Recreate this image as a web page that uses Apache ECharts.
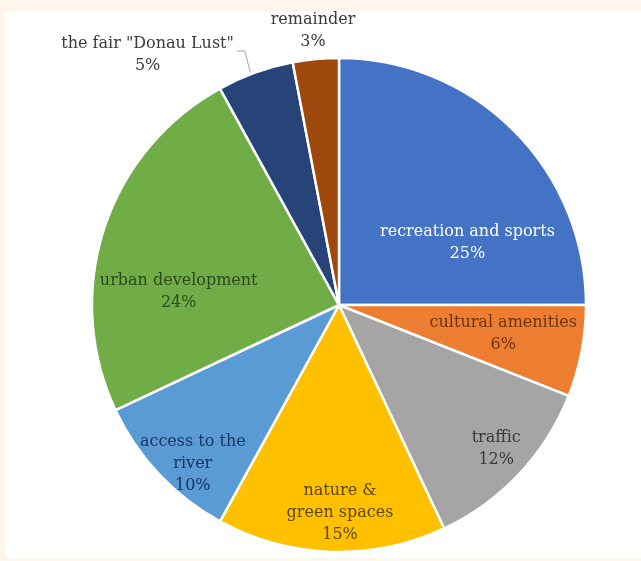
<!DOCTYPE html>
<html>
<head>
<meta charset="utf-8">
<script src="https://cdn.jsdelivr.net/npm/echarts@6/dist/echarts.min.js"></script>
<style>
  html, body { margin: 0; padding: 0; background: #fdf6ec; width: 641px; height: 561px; overflow: hidden; }
  #panel { position: absolute; left: 5px; top: 11px; width: 636px; height: 547px; background: #ffffff; }
  #chart { position: absolute; left: 0; top: 0; width: 641px; height: 561px; }
</style>
</head>
<body>
<div id="panel"></div>
<div id="chart"></div>
<script>
// ---- data ----
const categories = ['recreation and sports', 'cultural amenities', 'traffic', 'nature & green spaces',
                    'access to the river', 'urban development', 'the fair "Donau Lust"', 'remainder'];
const shares = [25, 6, 12, 15, 10, 24, 5, 3];

// ---- styling (kept separate from data) ----
const sliceColors = ['#4472C4', '#ED7D31', '#A5A5A5', '#FFC000', '#5B9BD5', '#70AD47', '#264478', '#9E480E'];
const labelColors = ['#ffffff', '#6e3410', '#3a3a3a', '#5e4600', '#1c3560', '#2a4a1c', '#3a3a3a', '#3a3a3a'];
const wrapped = { 'nature & green spaces': 'nature &\ngreen spaces', 'access to the river': 'access to the\nriver' };
// label shift from the default inside position (px)
const labelShift = [[39, 27], [40, 5], [65, 57], [5, 81], [-54, 72], [-40, 26]];
const outsideIdx = { 6: 'line', 7: 'free' };

const CX = 339, CY = 305, R = 247;
const total = shares.reduce((a, b) => a + b, 0);

const chart = echarts.init(document.getElementById('chart'), null, { renderer: 'canvas' });

const data = categories.map((name, i) => ({
  name: name,
  value: shares[i],
  itemStyle: { color: sliceColors[i] },
  label: {
    color: labelColors[i],
    position: outsideIdx[i] ? 'outside' : 'inside'
  },
  labelLine: { show: outsideIdx[i] === 'line' }
}));

function midAngle(i) {
  let acc = 0;
  for (let k = 0; k < i; k++) acc += shares[k];
  return (acc + shares[i] / 2) / total * Math.PI * 2;
}

chart.setOption({
  animation: false,
  backgroundColor: 'transparent',
  series: [{
    type: 'pie',
    center: [CX, CY],
    radius: [0, R],
    startAngle: 90,
    clockwise: true,
    avoidLabelOverlap: false,
    itemStyle: { borderColor: '#ffffff', borderWidth: 2.5 },
    label: {
      show: true,
      fontFamily: 'DejaVu Serif',
      fontSize: 16,
      lineHeight: 22,
      formatter: p => (wrapped[p.name] || p.name) + '\n' + Math.round(p.percent) + '%'
    },
    labelLine: {
      show: true,
      length: 20,
      length2: 8,
      lineStyle: { color: '#a6a6a6', width: 1 }
    },
    labelLayout: function (p) {
      const i = p.dataIndex;
      const r = p.labelRect;
      if (i < labelShift.length) {
        return {
          x: r.x + r.width / 2 + labelShift[i][0],
          y: r.y + r.height / 2 + labelShift[i][1],
          align: 'center',
          verticalAlign: 'middle'
        };
      }
      const a = midAngle(i);
      if (outsideIdx[i] === 'line') {
        const sx = CX + R * Math.sin(a), sy = CY - R * Math.cos(a);
        const ex = CX + (R + 22) * Math.sin(a) - 3, ey = CY - (R + 22) * Math.cos(a) - 1;
        const hx = ex - 8;
        return {
          x: hx - 3 - r.width / 2,
          y: ey + 4,
          align: 'center',
          verticalAlign: 'middle',
          labelLinePoints: [[sx - 5, sy], [ex, ey], [hx, ey]]
        };
      }
      return {
        x: CX + (R + 29) * Math.sin(a),
        y: CY - (R + 29) * Math.cos(a) + 1,
        align: 'center',
        verticalAlign: 'middle'
      };
    },
    data: data
  }]
});
</script>
</body>
</html>
